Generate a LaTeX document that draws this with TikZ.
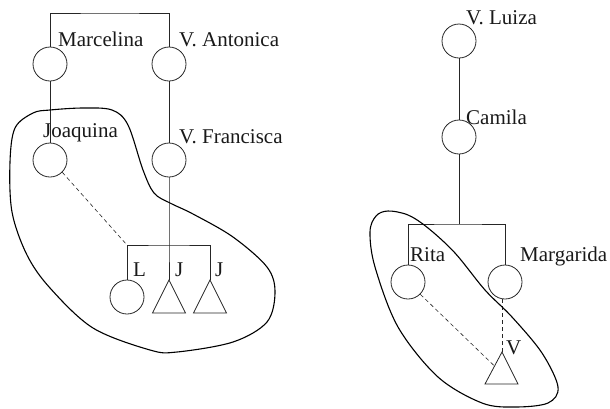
\documentclass[tikz,border=0pt]{standalone}
\usepackage{fontspec}
\setmainfont{Liberation Serif}
\usetikzlibrary{calc}
\begin{document}
\begin{tikzpicture}[x=1pt,y=-1pt,
  person/.style={circle, draw=black!85, line width=0.8pt, minimum size=34pt, inner sep=0pt},
  lbl/.style={anchor=base west, inner sep=0pt, font=\fontsize{21}{24}\selectfont, text=black!90},
  blob/.style={line width=1.1pt, draw=black},
  kin/.style={line width=0.8pt, draw=black!85},
  dashline/.style={draw=black!85, line width=0.6pt, dash pattern=on 4pt off 3pt}]
\useasboundingbox (0,0) rectangle (610,408);
% left family
\node[person] (marc) at (50,64) {};
\node[person] (anton) at (169,64) {};
\node[person] (joaq) at (50,160) {};
\node[person] (franc) at (169,160) {};
\node[person] (lnode) at (127,297) {};
\coordinate (j1) at (169,280);
\coordinate (j2) at (210,280);
\coordinate (top) at (110,13);
\coordinate (bar1) at (169,245);
\node[lbl] (tmarc) at (58,46) {Marcelina};
\node[lbl] (tanton) at (179,46) {V. Antonica};
\node[lbl] (tjoaq) at (43,137) {Joaquina};
\node[lbl] (tfranc) at (179,143) {V. Francisca};
\node[lbl] (tl) at (133,276) {L};
\node[lbl] (tj1) at (175,276) {J};
\node[lbl] (tj2) at (215,276) {J};
\draw[kin] (marc.north) |- (top) -| (anton.north);
\draw[kin] (marc) -- (joaq);
\draw[kin] (anton) -- (franc);
\draw[kin] (franc) -- (bar1) -- (j1);
\draw[kin] (lnode.north) |- (bar1) -| (j2);
\draw[dashline] (joaq.south east) -- (bar1 -| lnode);
\draw[kin] (j1) -- ++(-16.5,33) -- ++(33,0) -- cycle;
\draw[kin] (j2) -- ++(-16.5,33) -- ++(33,0) -- cycle;
\draw[blob] plot[smooth cycle, tension=0.55] coordinates {
 (50,110) (83,108) (112,110) (128,125) (143,170) (154,193) (170,203)
 (193,214) (233,237) (267,267) (275,292) (267,322) (233,342) (177,352)
 (150,350) (93,328) (50,288) (27,255) (12,212) (10,162) (15,128) (33,113)};
% right family
\node[person] (luiza) at (459,41) {};
\node[person] (camila) at (459,137) {};
\node[person] (rita) at (408,282) {};
\node[person] (marg) at (505,282) {};
\coordinate (v) at (502,352);
\coordinate (vbl) at (485,384);
\coordinate (bar2) at (459,224);
\node[lbl] (tluiza) at (466,24) {V. Luiza};
\node[lbl] (tcam) at (466,124) {Camila};
\node[lbl] (trita) at (410,261) {Rita};
\node[lbl] (tmarg) at (520,261) {Margarida};
\node[lbl] (tv) at (506,354) {V};
\draw[kin] (luiza) -- (camila);
\draw[kin] (camila) -- (bar2);
\draw[kin] (rita.north) |- (bar2) -| (marg.north);
\draw[kin] (v) -- (vbl) -- ++(33,0) -- cycle;
\draw[dashline] (v |- marg.south) -- (v);
\draw[dashline] (rita.south east) -- ($(v)!0.44!(vbl)$);
\draw[blob] plot[smooth cycle, tension=0.55] coordinates {
 (388,211) (408,215) (428,228) (455,253) (485,290) (512,317) (542,353)
 (558,387) (548,403) (515,407) (482,403) (438,377) (398,327) (375,267)
 (370,232) (376,216)};
\end{tikzpicture}
\end{document}
